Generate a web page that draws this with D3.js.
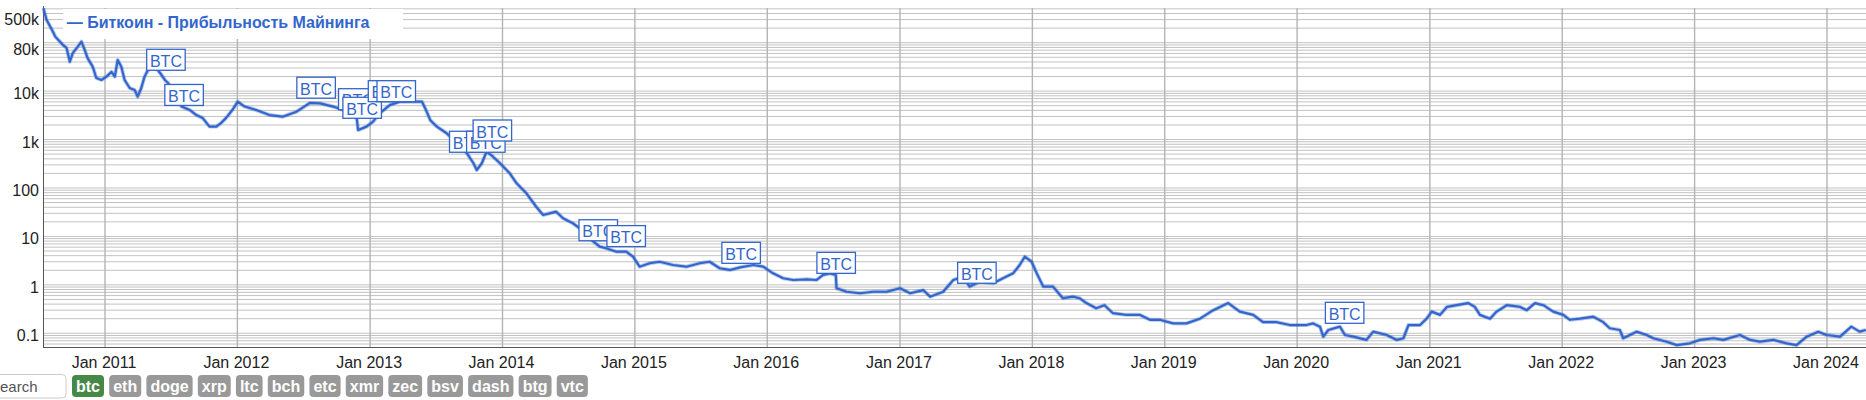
<!DOCTYPE html>
<html><head><meta charset="utf-8">
<script src="https://cdn.jsdelivr.net/npm/d3@7"></script>
<style>
html,body{margin:0;padding:0;background:#fff;overflow:hidden}
svg{display:block;font-family:"Liberation Sans",Arial,sans-serif}
</style></head><body>
<svg id="c" width="1866" height="400"></svg>
<script>
// ---------------- DATA ----------------
const seriesName = "Биткоин - Прибыльность Майнинга";
const dates = [
"2010-07-15","2010-07-24","2010-08-08","2010-08-17","2010-08-30","2010-09-07","2010-09-17","2010-09-26","2010-10-04","2010-10-18",
"2010-10-28","2010-11-06","2010-11-14","2010-11-28","2010-12-08","2010-12-22","2011-01-05","2011-01-19","2011-01-28","2011-02-05",
"2011-02-15","2011-02-24","2011-03-10","2011-03-24","2011-04-01","2011-04-11","2011-04-20","2011-04-29","2011-05-13","2011-05-27",
"2011-06-06","2011-06-15","2011-06-24","2011-07-31","2011-08-23","2011-09-10","2011-09-27","2011-10-16","2011-11-04","2011-11-17",
"2011-12-01","2011-12-18","2012-01-02","2012-01-21","2012-02-22","2012-03-30","2012-05-05","2012-06-12","2012-07-19","2012-08-16",
"2012-09-21","2012-10-19","2012-11-25","2012-11-29","2012-12-22","2013-01-09","2013-01-28","2013-02-25","2013-03-25","2013-04-30",
"2013-05-24","2013-06-02","2013-06-16","2013-07-04","2013-07-31","2013-08-28","2013-09-25","2013-10-13","2013-10-22","2013-11-05",
"2013-11-18","2013-12-06","2013-12-25","2014-01-21","2014-02-09","2014-03-08","2014-04-04","2014-04-23","2014-05-11","2014-05-29",
"2014-06-17","2014-07-14","2014-08-02","2014-08-29","2014-09-26","2014-10-14","2014-11-11","2014-12-08","2014-12-27","2015-01-14",
"2015-02-11","2015-03-10","2015-04-16","2015-05-23","2015-06-29","2015-07-26","2015-08-23","2015-09-20","2015-10-18","2015-11-24",
"2015-12-21","2016-01-17","2016-02-14","2016-03-13","2016-04-19","2016-05-16","2016-06-03","2016-06-22","2016-07-08","2016-07-10",
"2016-08-07","2016-09-13","2016-10-19","2016-11-25","2017-01-01","2017-01-29","2017-03-06","2017-03-25","2017-04-30","2017-05-28",
"2017-06-24","2017-07-12","2017-08-09","2017-09-15","2017-10-12","2017-11-09","2017-11-27","2017-12-11","2017-12-30","2018-01-13",
"2018-01-31","2018-02-27","2018-03-26","2018-04-23","2018-05-11","2018-05-30","2018-06-26","2018-07-19","2018-08-11","2018-09-17",
"2018-10-24","2018-11-21","2018-12-18","2019-01-24","2019-03-02","2019-04-08","2019-05-15","2019-06-25","2019-07-27","2019-09-02",
"2019-09-29","2019-11-05","2019-12-12","2020-01-27","2020-02-14","2020-03-04","2020-03-13","2020-03-27","2020-04-28","2020-05-12",
"2020-06-04","2020-07-10","2020-07-29","2020-09-04","2020-10-02","2020-10-20","2020-11-03","2020-12-05","2020-12-23","2021-01-06",
"2021-01-29","2021-02-17","2021-03-16","2021-04-17","2021-05-05","2021-05-19","2021-06-16","2021-07-04","2021-08-01","2021-09-07",
"2021-09-25","2021-10-18","2021-11-10","2021-12-07","2022-01-04","2022-01-22","2022-02-19","2022-03-28","2022-04-24","2022-05-12",
"2022-06-09","2022-06-18","2022-07-25","2022-08-22","2022-09-09","2022-10-16","2022-11-13","2022-12-19","2023-01-16","2023-02-22",
"2023-03-21","2023-05-06","2023-06-03","2023-06-30","2023-08-06","2023-09-12","2023-10-09","2023-11-06","2023-12-08","2023-12-31",
"2024-02-06","2024-03-08","2024-03-31","2024-04-17"
];
const values = [
513000,294000,183000,133000,105000,90000,78000,40500,61000,83000,
105000,71000,48000,32000,18700,17000,19900,25000,19900,44000,
32000,17000,11600,10500,7700,11600,19900,27000,30000,27000,
21500,17000,14700,4800,4070,3200,2800,1850,1850,2200,
2800,4070,6050,4800,4070,3200,2970,3760,5700,5600,
4800,4070,2750,1570,1850,2340,3500,5200,6050,6050,
6050,4400,2500,1850,1350,837,520,324,235,324,
561,443,324,201,125,77.6,41,27.7,30,32.4,
23.7,18.7,14.7,9.15,6.14,5.69,4.83,4.83,3.81,2.37,
2.79,3.0,2.57,2.37,2.79,3.0,2.2,2.03,2.3,2.57,
2.37,1.73,1.37,1.26,1.30,1.26,1.6,1.73,1.6,0.85,
0.72,0.67,0.72,0.72,0.85,0.67,0.78,0.57,0.72,1.26,
1.47,0.92,1.16,1.08,1.37,1.73,2.57,3.81,3.0,1.73,
0.92,0.92,0.53,0.57,0.53,0.42,0.33,0.38,0.26,0.24,
0.24,0.19,0.19,0.16,0.16,0.20,0.30,0.42,0.28,0.24,
0.17,0.17,0.148,0.148,0.16,0.137,0.085,0.117,0.137,0.092,
0.085,0.073,0.108,0.092,0.073,0.079,0.148,0.148,0.20,0.28,
0.24,0.35,0.38,0.42,0.35,0.24,0.20,0.28,0.38,0.35,
0.30,0.42,0.38,0.28,0.24,0.19,0.20,0.22,0.17,0.127,
0.117,0.079,0.108,0.092,0.079,0.067,0.057,0.062,0.073,0.079,
0.073,0.092,0.073,0.067,0.073,0.062,0.057,0.085,0.108,0.092,
0.085,0.137,0.108,0.117
];
const annoText = "BTC";
const annoDates = ["2011-06-18","2011-08-07","2012-08-05","2012-11-28","2012-12-10","2013-02-18","2013-03-14",
  "2013-09-30","2013-11-16","2013-12-04","2014-09-22","2014-12-08","2015-10-21","2016-07-09","2017-08-01","2020-05-11"];
const annoValues = [24500,4600,6500,3760,2500,5500,5500,497,497,849,7.4,5.6,2.53,1.57,0.98,0.146];
const yTickValues = [500000,80000,10000,1000,100,10,1,0.1];
const yTickLabels = ["500k","80k","10k","1k","100","10","1","0.1"];
const coins = ["btc","eth","doge","xrp","ltc","bch","etc","xmr","zec","bsv","dash","btg","vtc"];
const activeCoin = "btc";
const searchPlaceholder = "Search";

// ---------------- DRAW ----------------
const blue = "#3366cc";
const L = 43, R = 1866, T = 8, B = 347;
const parse = d3.utcParse("%Y-%m-%d");
const svg = d3.select("#c");

const x = d3.scaleUtc()
  .domain([Date.UTC(2010,6,14), Date.UTC(2024,3,17,14)])
  .range([L, R]);
const y = d3.scaleLog().domain([0.05207, 520600]).range([B, T]);

// horizontal grid
svg.append("g").selectAll("line").data(y.ticks().filter(t => y(t) >= T - 0.5 && y(t) <= B))
  .join("line")
  .attr("x1", L).attr("x2", R)
  .attr("y1", d => y(d)).attr("y2", d => y(d))
  .attr("stroke", "#c2c2c2").attr("stroke-width", 1);

// vertical grid
const xTicks = x.ticks(d3.utcYear.every(1));
svg.append("g").selectAll("line").data(xTicks).join("line")
  .attr("x1", d => x(d)).attr("x2", d => x(d))
  .attr("y1", T).attr("y2", B)
  .attr("stroke", "#b4b4b4").attr("stroke-width", 1.4);

// axes lines
svg.append("line").attr("x1", L).attr("x2", R).attr("y1", B + 0.5).attr("y2", B + 0.5)
  .attr("stroke", "#555").attr("stroke-width", 1);
svg.append("line").attr("x1", L + 0.5).attr("x2", L + 0.5).attr("y1", T - 2).attr("y2", B)
  .attr("stroke", "#555").attr("stroke-width", 1);

// x labels
const fmt = d3.utcFormat("%b %Y");
svg.append("g").selectAll("text").data(xTicks).join("text")
  .attr("x", d => x(d) - 1).attr("y", 368)
  .attr("text-anchor", "middle")
  .attr("font-size", 16).attr("fill", "#222")
  .text(d => fmt(d));

// y labels
svg.append("g").selectAll("text").data(yTickValues).join("text")
  .attr("x", 39)
  .attr("y", d => Math.max(y(d) - 4, 13) + 12)
  .attr("text-anchor", "end")
  .attr("font-size", 16).attr("fill", "#222")
  .text((d, i) => yTickLabels[i]);

// series
const pts = dates.map((d, i) => [parse(d), values[i]]);
const line = d3.line().x(d => x(d[0])).y(d => y(d[1]));
svg.append("path").datum(pts)
  .attr("d", line)
  .attr("fill", "none").attr("stroke", blue).attr("stroke-opacity", 0.35)
  .attr("stroke-width", 4).attr("stroke-linejoin", "round");
svg.append("path").datum(pts)
  .attr("d", line)
  .attr("fill", "none").attr("stroke", blue)
  .attr("stroke-width", 2.2).attr("stroke-linejoin", "round");

// annotations
const ag = svg.append("g");
annoDates.forEach((d, i) => {
  const cx = x(parse(d)), cy = y(annoValues[i]);
  const g = ag.append("g");
  const bottom = cy - 2, h = 21;
  const rect = g.append("rect");
  const t = g.append("text")
    .attr("x", cx).attr("y", bottom - 3.3)
    .attr("text-anchor", "middle")
    .attr("font-size", 16).attr("fill", blue)
    .text(annoText);
  const w = t.node().getComputedTextLength() + 6.5;
  rect.attr("x", cx - w / 2).attr("y", bottom - h).attr("width", w).attr("height", h)
    .attr("fill", "#fff").attr("stroke", blue).attr("stroke-width", 1.3);
});

// legend
svg.append("rect").attr("x", 63).attr("y", 9).attr("width", 340).attr("height", 30).attr("fill", "#fff");
svg.append("text").attr("x", 66.7).attr("y", 28.3)
  .attr("font-size", 16).attr("font-weight", "bold").attr("fill", blue)
  .text("\u2014 " + seriesName);

// search box
svg.append("rect").attr("x", -30).attr("y", 374.5).attr("width", 96).attr("height", 23.5)
  .attr("rx", 4).attr("fill", "#fff").attr("stroke", "#ccc");
svg.append("text").attr("x", -10).attr("y", 391.5)
  .attr("font-size", 15).attr("fill", "#555").text(searchPlaceholder);

// coin buttons
let bx = 72;
const bg = svg.append("g");
coins.forEach(c => {
  const g = bg.append("g");
  const r = g.append("rect");
  const t = g.append("text").attr("x", bx + 4).attr("y", 391.5)
    .attr("font-size", 16).attr("font-weight", "bold").attr("fill", "#fff").text(c);
  const w = t.node().getComputedTextLength() + 8;
  r.attr("x", bx).attr("y", 375).attr("width", w).attr("height", 22).attr("rx", 4)
    .attr("fill", c === activeCoin ? "#468847" : "#999");
  bx += w + 5.2;
});
</script>
</body></html>
